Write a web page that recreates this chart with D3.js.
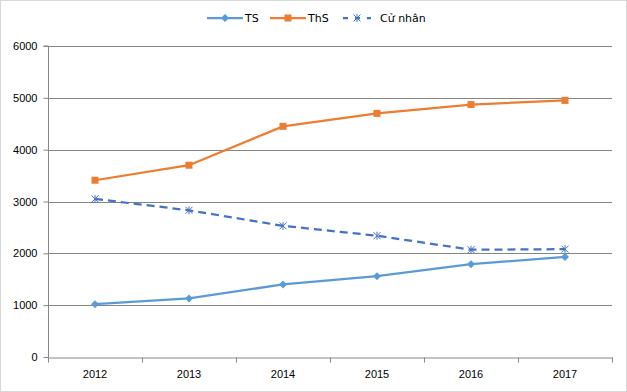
<!DOCTYPE html>
<html lang="vi">
<head>
<meta charset="UTF-8">
<script src="https://d3js.org/d3.v7.min.js"></script>
<style>
  body { margin: 0; background: #fff; }
  svg { display: block; font-family: "DejaVu Sans", Verdana, sans-serif; }
  .tick text { font-size: 11px; fill: #000; }
</style>
</head>
<body>
<svg id="chart" width="627" height="392"></svg>
<script>
const years = ["2012", "2013", "2014", "2015", "2016", "2017"];
const tsValues = [1020, 1130, 1400, 1560, 1790, 1930];
const thsValues = [3410, 3700, 4450, 4700, 4870, 4950];
const cuNhanValues = [3050, 2830, 2530, 2340, 2070, 2080];
const yTicks = [0, 1000, 2000, 3000, 4000, 5000, 6000];

const series = [
  { name: "TS", values: tsValues, color: "#5B9BD5", dash: null, marker: "diamond" },
  { name: "ThS", values: thsValues, color: "#ED7D31", dash: null, marker: "square" },
  { name: "Cử nhân", values: cuNhanValues, color: "#4472C4", dash: "8,5", marker: "star" }
];

const width = 627, height = 392;
const margin = { top: 46, right: 15, bottom: 35, left: 48 };
const svg = d3.select("#chart");

svg.append("rect")
  .attr("x", 0.5).attr("y", 0.5)
  .attr("width", width - 1).attr("height", height - 1)
  .attr("fill", "#fff").attr("stroke", "#d9d9d9");

const x = d3.scaleBand().domain(years)
  .range([margin.left, width - margin.right]);
const y = d3.scaleLinear().domain([0, 6000])
  .range([height - margin.bottom, margin.top]);

// gridlines
svg.append("g")
  .selectAll("line").data(yTicks.filter(d => d > 0)).join("line")
  .attr("x1", margin.left).attr("x2", width - margin.right)
  .attr("y1", d => Math.round(y(d)) + 0.5).attr("y2", d => Math.round(y(d)) + 0.5)
  .attr("stroke", "#868686");

// y axis
const yAxis = svg.append("g")
  .attr("transform", `translate(${margin.left + 0.5},0)`)
  .call(d3.axisLeft(y).tickValues(yTicks).tickSize(5).tickPadding(6).tickFormat(d3.format("d")));
yAxis.selectAll("line, path").attr("stroke", "#868686");
yAxis.select(".domain").attr("d", `M-5,${y(6000)}H0V${y(0)}`);

// x axis
const xAxis = svg.append("g")
  .attr("transform", `translate(0,${Math.round(y(0)) + 0.5})`)
  .call(d3.axisBottom(x).tickSize(0).tickPadding(13));
xAxis.select(".domain").attr("stroke", "#868686");
xAxis.selectAll(".tick line").remove();
xAxis.selectAll(".sep").data(years.concat(["end"])).join("line")
  .attr("class", "sep")
  .attr("x1", (d, i) => Math.round(margin.left + i * x.bandwidth()) + 0.5)
  .attr("x2", (d, i) => Math.round(margin.left + i * x.bandwidth()) + 0.5)
  .attr("y1", 0).attr("y2", 5)
  .attr("stroke", "#868686");

function drawMarker(g, type, color) {
  if (type === "diamond") {
    g.append("path").attr("d", "M0,-4L4,0L0,4L-4,0Z").attr("fill", color);
  } else if (type === "square") {
    g.append("rect").attr("x", -3.5).attr("y", -3.5).attr("width", 7).attr("height", 7).attr("fill", color);
  } else {
    g.append("path").attr("d", "M-3.5,-3.5L3.5,3.5M-3.5,3.5L3.5,-3.5M0,-4V4")
      .attr("stroke", color).attr("stroke-width", 1).attr("fill", "none");
  }
}

const cx = d => x(d) + x.bandwidth() / 2;
const line = d3.line().x(d => cx(d.year)).y(d => y(d.v));

series.forEach(s => {
  const pts = years.map((yr, i) => ({ year: yr, v: s.values[i] }));
  svg.append("path").datum(pts)
    .attr("d", line)
    .attr("fill", "none")
    .attr("stroke", s.color)
    .attr("stroke-width", 2.25)
    .attr("stroke-dasharray", s.dash);
  pts.forEach(p => {
    const g = svg.append("g").attr("transform", `translate(${cx(p.year)},${y(p.v)})`);
    drawMarker(g, s.marker, s.color);
  });
});

// legend
const legendItems = [
  { s: series[0], x: 207, w: 36 },
  { s: series[1], x: 270, w: 36 },
  { s: series[2], x: 343, w: 28 }
];
legendItems.forEach(it => {
  const g = svg.append("g").attr("transform", `translate(${it.x},18)`);
  g.append("line").attr("x1", 0).attr("x2", it.w).attr("y1", 0).attr("y2", 0)
    .attr("stroke", it.s.color).attr("stroke-width", 2.25)
    .attr("stroke-dasharray", it.s.dash ? "5,7" : null);
  const m = g.append("g").attr("transform", `translate(${it.w / 2},0)`);
  drawMarker(m, it.s.marker, it.s.color);
  g.append("text").attr("x", it.w + (it.s.dash ? 9 : 2)).attr("y", 4)
    .attr("font-size", 11).attr("fill", "#000").text(it.s.name);
});
</script>
</body>
</html>
